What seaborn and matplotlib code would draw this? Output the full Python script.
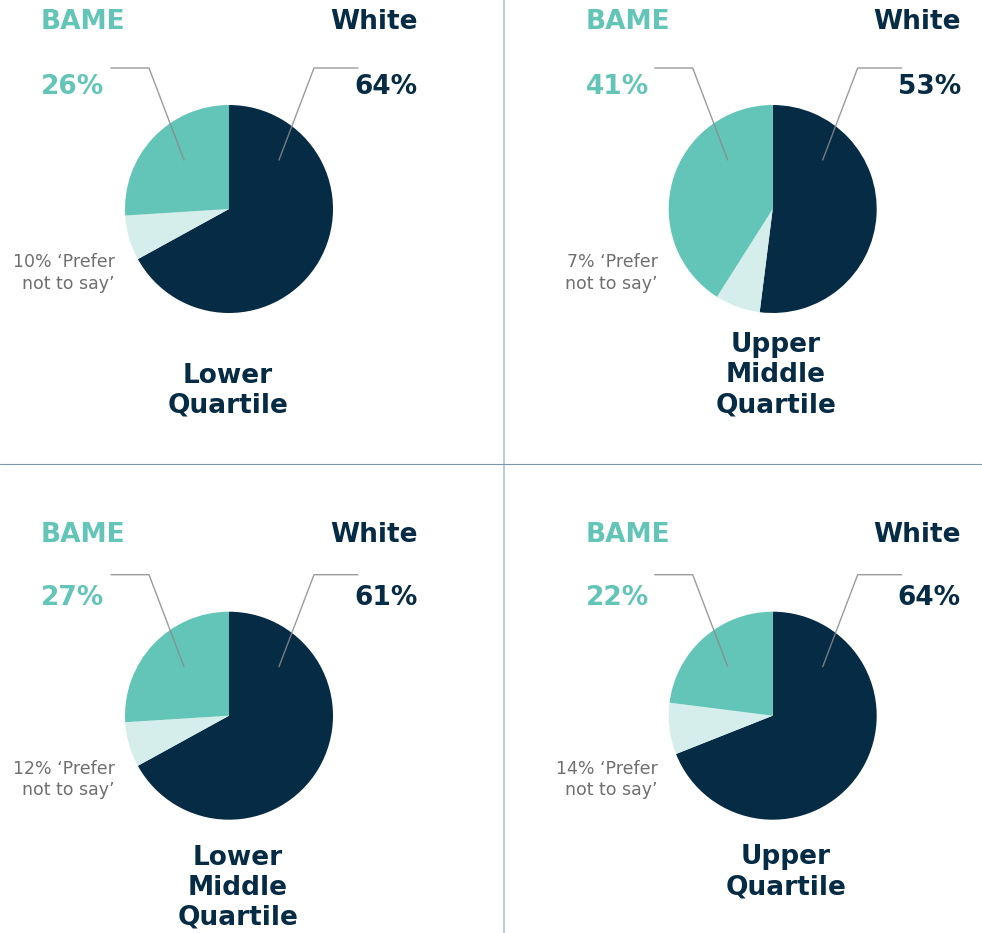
# ------------------------------------------------
# ----- Librerías a utilizar ---------------------
# ------------------------------------------------

from matplotlib import pyplot as plt
import seaborn as sns

# ------------------------------------------------
# ----- Datos ------------------------------------
# ------------------------------------------------

quartiles = ['Lower\nQuartile', 'Upper\nMiddle\nQuartile',
             'Lower\nMiddle\nQuartile', 'Upper\nQuartile']

# porcentajes escritos en las etiquetas
white_pct = [64, 53, 61, 64]
bame_pct = [26, 41, 27, 22]
prefer_pct = [10, 7, 12, 14]

# proporciones de los sectores tal como se dibujan (White, Prefer, BAME)
white_share = [67, 52, 67, 69]
prefer_share = [7, 7, 7, 8]
bame_share = [26, 41, 26, 23]

# ------------------------------------------------
# ----- Estilo -----------------------------------
# ------------------------------------------------

sns.set_theme(style='white')
plt.rcParams['font.family'] = ['DejaVu Sans']

navy = '#062B45'
teal = '#63C5B8'
light = '#D5EEEB'
grey_txt = '#6F6F6F'
leader = '#8A8A8A'
colores = sns.color_palette([navy, light, teal])

W, H = 982, 933
fig = plt.figure(figsize=(W / 100, H / 100), dpi=100)

# posiciones en pixeles de cada panel
cx = [229, 772.7, 229, 772.7]
cy = [209, 209, 715.7, 715.7]
r = 104
head_y = [22, 22, 534.7, 534.7]
val_y = [87, 87, 598.3, 598.3]
grey_y = [273, 273, 779.7, 779.7]
title_x = [228, 776, 238, 786]
title_y = [391, 375, 887.7, 872]
left_x = [41, 586, 41, 586]
right_x = [418, 961, 418, 961]
grey_x = [115, 658, 115, 658]
dx = [0, 543.7, 0, 543.7]
dy = [0, 0, 506.7, 506.7]

# ------------------------------------------------
# ----- Tartas -----------------------------------
# ------------------------------------------------

for i in range(4):
    ax = fig.add_axes([(cx[i] - r) / W, 1 - (cy[i] + r) / H, 2 * r / W, 2 * r / H])
    ax.pie([white_share[i], prefer_share[i], bame_share[i]], colors=colores,
           startangle=90, counterclock=False, radius=1,
           wedgeprops={'linewidth': 0, 'antialiased': True})
    ax.set_xlim(-1, 1)
    ax.set_ylim(-1, 1)
    ax.set_aspect('equal')
    ax.axis('off')

# ------------------------------------------------
# ----- Capa de textos y líneas ------------------
# ------------------------------------------------

ov = fig.add_axes([0, 0, 1, 1])
ov.set_xlim(0, W)
ov.set_ylim(H, 0)
ov.axis('off')
ov.patch.set_alpha(0)

# separadores
ov.plot([504.5, 504.5], [0, H], color='#AEBBC8', lw=1.1)
ov.plot([0, W], [464, 464], color='#8096AA', lw=0.8)

fs = 19
for i in range(4):
    ov.text(left_x[i], head_y[i], 'BAME', color=teal, fontsize=fs,
            fontweight='bold', ha='left', va='center')
    ov.text(right_x[i], head_y[i], 'White', color=navy, fontsize=fs,
            fontweight='bold', ha='right', va='center')
    ov.text(left_x[i], val_y[i], f'{bame_pct[i]}%', color=teal, fontsize=fs,
            fontweight='bold', ha='left', va='center')
    ov.text(right_x[i], val_y[i], f'{white_pct[i]}%', color=navy, fontsize=fs,
            fontweight='bold', ha='right', va='center')
    ov.text(grey_x[i], grey_y[i], f'{prefer_pct[i]}% \u2018Prefer\nnot to say\u2019',
            color=grey_txt, fontsize=12.5, ha='right', va='center',
            multialignment='right', linespacing=1.25)
    ov.text(title_x[i], title_y[i], quartiles[i], color=navy, fontsize=fs,
            fontweight='bold', ha='center', va='center', linespacing=1.2)

    # líneas guía
    ov.plot([111 + dx[i], 149 + dx[i], 184 + dx[i]],
            [68 + dy[i], 68 + dy[i], 160 + dy[i]], color=leader, lw=1, alpha=0.85)
    ov.plot([358 + dx[i], 314 + dx[i], 279 + dx[i]],
            [68 + dy[i], 68 + dy[i], 160 + dy[i]], color=leader, lw=1, alpha=0.85)

fig.savefig('out.png', dpi=100, facecolor='white')
